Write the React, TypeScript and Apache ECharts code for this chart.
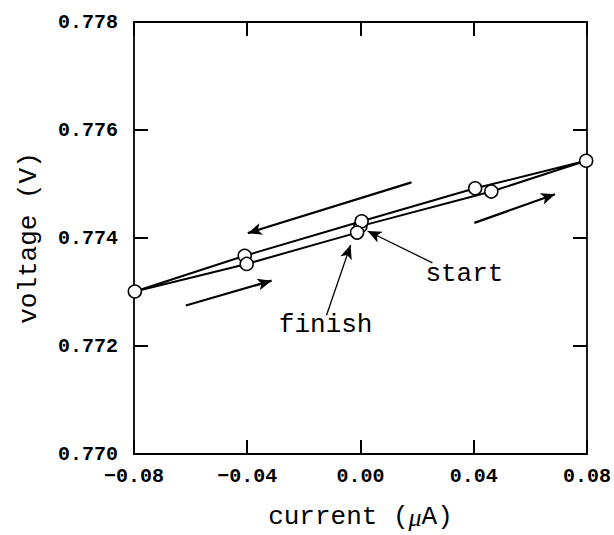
import React, { useEffect, useRef } from "react";
import * as echarts from "echarts";

// traversal order of the current sweep (µA) and measured voltage (V)
const currentValues = [0.0, 0.0462, 0.0797, 0.0405, 0.0004, -0.0409, -0.0797, -0.0402, -0.0012];
const voltageValues = [0.77422, 0.77486, 0.77543, 0.77492, 0.77431, 0.77367, 0.77301, 0.77352, 0.77410];

const xTicks = [-0.08, -0.04, 0.0, 0.04, 0.08];
const yTicks = [0.77, 0.772, 0.774, 0.776, 0.778];

// direction arrows: [fromX, fromY, toX, toY]
const directionArrows = [
  [0.018, 0.77503, -0.0398, 0.77409],
  [-0.0617, 0.77275, -0.0314, 0.77321],
  [0.0402, 0.77428, 0.0687, 0.77481],
];
// pointer arrows for labels
const pointerArrows = [
  [0.0254, 0.77354, 0.0025, 0.77413],
  [-0.012, 0.77257, -0.0035, 0.77387],
];
const annotations = [
  { text: "start", x: 0.0367, y: 0.77334 },
  { text: "finish", x: -0.0123, y: 0.772385 },
];

const monoFont = "'Liberation Mono', 'DejaVu Sans Mono', monospace";

export default function App() {
  const ref = useRef<HTMLDivElement>(null);
  useEffect(() => {
    document.body.style.margin = "0";
    if (!ref.current) return;
    const chart = echarts.init(ref.current, undefined, { renderer: "svg" });
    const pts = currentValues.map((c, i) => [c, voltageValues[i]]);
    const fmtX = (v: number) => {
      const s = v.toFixed(2);
      return s.startsWith("-") ? "\u2212" + s.slice(1) : s;
    };
    const axisLine = () => ({ show: true, onZero: false, lineStyle: { color: "#000", width: 1.8 } });
    const axisTick = () => ({ show: true, inside: true, length: 14, lineStyle: { color: "#000", width: 2 } });
    const tickLabel = () => ({
      color: "#000",
      fontFamily: monoFont,
      fontWeight: "bold" as const,
      fontSize: 20,
    });
    chart.setOption({
      animation: false,
      backgroundColor: "#fff",
      grid: { left: 134, right: 26, top: 22, bottom: 77 },
      xAxis: [
        {
          type: "value",
          min: xTicks[0],
          max: xTicks[xTicks.length - 1],
          interval: 0.04,
          position: "bottom",
          axisLine: axisLine(),
          axisTick: axisTick(),
          splitLine: { show: false },
          axisLabel: { ...tickLabel(), margin: 12, formatter: (v: number) => fmtX(v) },
          name: "{a|current (}{m|\u03bc}{a|A)}",
          nameLocation: "middle",
          nameGap: 50,
          nameTextStyle: {
            rich: {
              a: { fontFamily: monoFont, fontSize: 26, color: "#000" },
              m: { fontFamily: "'Liberation Serif', serif", fontStyle: "italic", fontSize: 26, color: "#000" },
            },
          },
        },
        {
          type: "value",
          min: xTicks[0],
          max: xTicks[xTicks.length - 1],
          interval: 0.04,
          position: "top",
          axisLine: axisLine(),
          axisTick: axisTick(),
          splitLine: { show: false },
          axisLabel: { show: false },
        },
      ],
      yAxis: [
        {
          type: "value",
          min: yTicks[0],
          max: yTicks[yTicks.length - 1],
          interval: 0.002,
          position: "left",
          axisLine: axisLine(),
          axisTick: axisTick(),
          splitLine: { show: false },
          axisLabel: { ...tickLabel(), margin: 16, formatter: (v: number) => v.toFixed(3) },
          name: "voltage (V)",
          nameLocation: "middle",
          nameGap: 92,
          nameTextStyle: { fontFamily: monoFont, fontSize: 26, color: "#000" },
        },
        {
          type: "value",
          min: yTicks[0],
          max: yTicks[yTicks.length - 1],
          interval: 0.002,
          position: "right",
          axisLine: axisLine(),
          axisTick: axisTick(),
          splitLine: { show: false },
          axisLabel: { show: false },
        },
      ],
      series: [
        {
          type: "line",
          data: pts,
          symbol: "circle",
          symbolSize: 13,
          showSymbol: true,
          lineStyle: { color: "#000", width: 2 },
          itemStyle: { color: "#fff", borderColor: "#000", borderWidth: 1.5 },
          z: 3,
          markLine: {
            silent: true,
            symbol: ["none", "arrow"],
            symbolSize: [9, 14],
            label: { show: false },
            data: [
              ...directionArrows.map((a) => [
                { coord: [a[0], a[1]], lineStyle: { color: "#000", width: 2.2, type: "solid" } },
                { coord: [a[2], a[3]] },
              ]),
              ...pointerArrows.map((a) => [
                { coord: [a[0], a[1]], lineStyle: { color: "#000", width: 1.3, type: "solid" } },
                { coord: [a[2], a[3]] },
              ]),
            ],
          },
          markPoint: {
            silent: true,
            symbol: "circle",
            symbolSize: 0,
            data: annotations.map((a) => ({
              coord: [a.x, a.y],
              label: {
                show: true,
                position: "inside",
                formatter: a.text,
                fontFamily: monoFont,
                fontSize: 26,
                color: "#000",
              },
            })),
          },
        },
      ],
    });
    return () => chart.dispose();
  }, []);
  return <div ref={ref} style={{ width: 614, height: 535 }} />;
}
